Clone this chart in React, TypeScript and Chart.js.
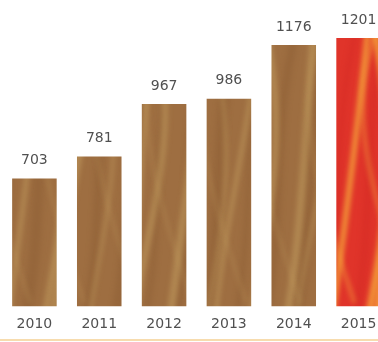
import React, { useEffect, useRef } from "react";
import { Chart, registerables } from "chart.js";

Chart.register(...registerables);

const years = ["2010", "2011", "2012", "2013", "2014", "2015"];
const values = [703, 781, 967, 986, 1176, 1201];
const valueLabels = ["703", "781", "967", "986", "1176", "1201"];
const highlightYear = "2015";

const CANVAS_W = 391;
const CANVAS_H = 342;

function makeTexture(base: string, light: string, dark: string, lightAlpha: number, thick: number) {
  const c = document.createElement("canvas");
  c.width = CANVAS_W;
  c.height = CANVAS_H;
  const g = c.getContext("2d")!;
  g.fillStyle = base;
  g.fillRect(0, 0, CANVAS_W, CANVAS_H);
  g.filter = "blur(2.5px)";
  g.lineCap = "round";
  for (let i = 0; i < 14; i++) {
    const x0 = i * 30 - 40;
    g.strokeStyle = dark;
    g.globalAlpha = 0.3;
    g.lineWidth = 5 + (i % 3) * 3;
    g.beginPath();
    g.moveTo(x0, CANVAS_H);
    g.bezierCurveTo(x0 + 30, 230, x0 + 5, 120, x0 + 45, 0);
    g.stroke();
  }
  for (let i = 0; i < 16; i++) {
    const x0 = i * 27 - 30;
    g.strokeStyle = light;
    g.globalAlpha = lightAlpha;
    g.lineWidth = thick + (i % 4) * 1.5;
    g.beginPath();
    g.moveTo(x0 + (i % 3) * 8, CANVAS_H);
    g.bezierCurveTo(x0 + 10 + (i % 3) * 14, 220, x0 + 55 - (i % 2) * 20, 150, x0 + 20 + (i % 2) * 30, 0);
    g.stroke();
    if (i % 2 === 0) {
      g.beginPath();
      g.moveTo(x0 + 60, CANVAS_H - 40);
      g.bezierCurveTo(x0 + 30, 210, x0 - 10, 100, x0 + 35, 20);
      g.globalAlpha = lightAlpha * 0.7;
      g.lineWidth = thick * 0.8;
      g.stroke();
    }
  }
  g.globalAlpha = 1;
  g.filter = "none";
  return g.createPattern(c, "no-repeat")!;
}

export default function App() {
  const ref = useRef<HTMLCanvasElement>(null);

  useEffect(() => {
    document.body.style.margin = "0";
    const canvas = ref.current!;
    const wood = makeTexture("#9e6e41", "#c8a463", "#83552f", 0.5, 3);
    const fire = makeTexture("#e0342a", "#f5a23a", "#cc2622", 0.85, 4);

    const labelPlugin = {
      id: "valueLabels",
      afterDatasetsDraw(chart: any) {
        const ctx = chart.ctx;
        const meta = chart.getDatasetMeta(0);
        ctx.save();
        ctx.font = "14px 'DejaVu Sans'";
        ctx.fillStyle = "#505050";
        ctx.textAlign = "center";
        ctx.textBaseline = "middle";
        meta.data.forEach((bar: any, i: number) => {
          ctx.fillText(valueLabels[i], bar.x, bar.y - 18);
        });
        ctx.restore();
      },
      afterDraw(chart: any) {
        const ctx = chart.ctx;
        ctx.save();
        ctx.fillStyle = "#f7dcae";
        ctx.fillRect(0, chart.height - 3, chart.width, 2);
        ctx.restore();
      },
    };

    const chart = new Chart(canvas, {
      type: "bar",
      data: {
        labels: years,
        datasets: [
          {
            data: values,
            backgroundColor: years.map((y) => (y === highlightYear ? fire : wood)) as any,
            borderWidth: 0,
            barPercentage: 0.687,
            categoryPercentage: 1,
          },
        ],
      },
      options: {
        responsive: false,
        animation: false,
        devicePixelRatio: 1,
        layout: { padding: { left: 2, right: 0, top: 20, bottom: -1 } },
        plugins: {
          legend: { display: false },
          tooltip: { enabled: false },
        },
        scales: {
          x: {
            grid: { display: false, drawTicks: false },
            border: { display: false },
            ticks: {
              color: "#505050",
              font: { family: "'DejaVu Sans'", size: 14 },
              padding: 10,
              maxRotation: 0,
              autoSkip: false,
            },
          },
          y: {
            display: false,
            min: 250,
            max: 1265,
          },
        },
      },
      plugins: [labelPlugin],
    });
    return () => chart.destroy();
  }, []);

  return (
    <div
      style={{
        position: "fixed",
        left: 0,
        top: 0,
        width: 378,
        height: 342,
        overflow: "hidden",
        background: "#fff",
      }}
    >
      <canvas ref={ref} width={CANVAS_W} height={CANVAS_H} style={{ display: "block" }} />
    </div>
  );
}
